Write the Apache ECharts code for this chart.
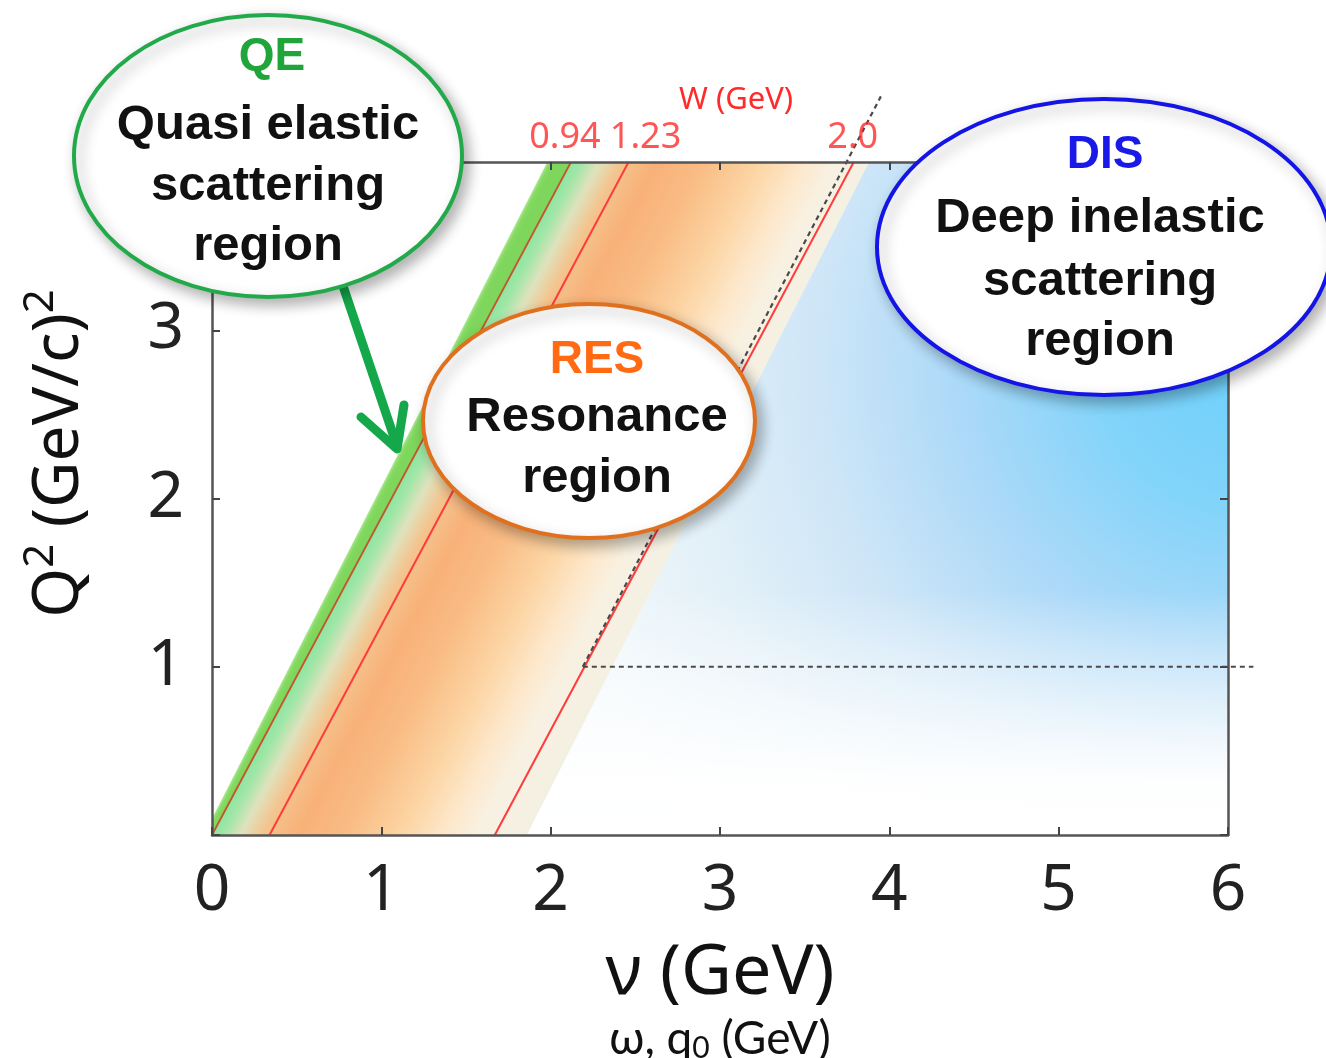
<!DOCTYPE html>
<html>
<head>
<meta charset="utf-8">
<script src="https://cdn.jsdelivr.net/npm/echarts@6/dist/echarts.min.js"></script>
<style>
html,body{margin:0;padding:0;background:#fff;}
#c{width:1326px;height:1058px;}
</style>
</head>
<body>
<div id="c"></div>
<script>
// ---------- data ----------
const xTicks = [0, 1, 2, 3, 4, 5, 6];
const yTickLabels = [1, 2, 3];
// constant-W lines, endpoints [nu, Q2]
const wLabels = ['0.94', '1.23', '2.0'];
const wLineStart = [[0.00, 0], [0.34, 0], [1.67, 0]];
const wLineEnd = [[2.12, 4], [2.46, 4], [3.79, 4]];
// band edges [nu, Q2]
const greenEdge = [[-0.05, 0], [1.98, 4]];
const qeEdge = [[0.00, 0], [2.12, 4]];
const resEdge = [[1.86, 0], [3.88, 4]];
const plotCorner = [[6, 0], [6, 4]];
// dashed guide lines
const dashDiag = [[2.19, 1], [3.95, 4.39]];
const dashHoriz = [[2.19, 1], [6.15, 1]];
// annotation texts
const qeText = ['QE', 'Quasi elastic', 'scattering', 'region'];
const resText = ['RES', 'Resonance', 'region'];
const disText = ['DIS', 'Deep inelastic', 'scattering', 'region'];

// ---------- chart ----------
const chart = echarts.init(document.getElementById('c'));
const G = echarts.graphic;

function polygon(name, pts, styleFn) {
  return {
    type: 'custom', name, coordinateSystem: 'cartesian2d', clip: true, silent: true,
    data: [[pts[0][0], pts[0][1]]], z: 1,
    renderItem: (params, api) => {
      const points = pts.map(p => api.coord(p));
      return { type: 'polygon', shape: { points }, style: styleFn(api, points) };
    }
  };
}
function normalGrad(api, fromLine, toLine, stops) {
  const a = api.coord(fromLine[0]), b = api.coord(fromLine[1]);
  const c = api.coord(toLine[0]);
  const dx = b[0] - a[0], dy = b[1] - a[1], L = Math.hypot(dx, dy);
  const n = [-dy / L, dx / L];
  const w = (c[0] - a[0]) * n[0] + (c[1] - a[1]) * n[1];
  return new G.LinearGradient(a[0], a[1], a[0] + n[0] * w, a[1] + n[1] * w, stops, true);
}

const series = [];
// green band (left of QE line)
series.push(polygon('greenBand', [greenEdge[0], qeEdge[0], qeEdge[1], greenEdge[1]], (api) => ({
  fill: normalGrad(api, greenEdge, qeEdge, [
    { offset: 0, color: 'rgba(150,224,120,0.8)' }, { offset: 0.4, color: '#86da62' }, { offset: 1, color: '#7fd65c' }])
})));
// resonance band
series.push(polygon('resBand', [qeEdge[0], resEdge[0], resEdge[1], qeEdge[1]], (api) => ({
  fill: normalGrad(api, qeEdge, resEdge, [
    { offset: 0, color: '#8ee6a0' }, { offset: 0.035, color: '#a2e6a8' },
    { offset: 0.09, color: '#dfe2bd' }, { offset: 0.16, color: '#f4c48e' },
    { offset: 0.27, color: '#f8b178' }, { offset: 0.42, color: '#f9bc84' },
    { offset: 0.6, color: '#fcd5a4' }, { offset: 0.74, color: '#fde8cc' },
    { offset: 0.84, color: '#f8f1e2' }, { offset: 1, color: '#f3f0e2' }])
})));
// DIS region
series.push(polygon('disBand', [resEdge[0], plotCorner[0], plotCorner[1], resEdge[1]], (api) => {
  const c = api.coord([6.1, 2.8]);
  return {
    fill: new G.RadialGradient(c[0], c[1], 720, [
      { offset: 0, color: '#6ed0fa' }, { offset: 0.2, color: '#82d4fa' },
      { offset: 0.4, color: '#acd9f8' }, { offset: 0.6, color: '#cfe6f7' },
      { offset: 0.8, color: '#e4f1f8' }, { offset: 1, color: '#f2f8fb' }], true)
  };
}));
series.push(polygon('disFade', [resEdge[0], plotCorner[0], plotCorner[1], resEdge[1]], (api) => {
  const y0 = api.coord([0, 0])[1], y1 = api.coord([0, 1.45])[1];
  return {
    fill: new G.LinearGradient(0, y0, 0, y1, [
      { offset: 0, color: 'rgba(255,255,255,1)' }, { offset: 0.22, color: 'rgba(255,255,255,0.96)' },
      { offset: 1, color: 'rgba(255,255,255,0)' }], true)
  };
}));
// constant-W lines
const wColors = ['#c4552f', '#ff3b3b', '#ff3b3b'];
wLabels.forEach((lab, i) => {
  series.push({
    type: 'line', name: 'W=' + lab, data: [wLineStart[i], wLineEnd[i]], showSymbol: false, symbol: 'none',
    clip: true, silent: true, z: 3, lineStyle: { color: wColors[i], width: i === 0 ? 1.8 : 2 }
  });
});
// dashed guides (drawn through the axes' scales, allowed to run past the frame)
[dashDiag, dashHoriz].forEach((d, i) => {
  series.push({
    type: 'custom', name: 'dash' + i, coordinateSystem: 'cartesian2d', clip: false, silent: true, z: 4,
    data: [[d[0][0], d[0][1]]],
    renderItem: (params, api) => {
      const p0 = api.coord(d[0]), p1 = api.coord(d[1]);
      return { type: 'line', shape: { x1: p0[0], y1: p0[1], x2: p1[0], y2: p1[1] },
        style: { stroke: '#4a4a4a', lineWidth: 2.2, lineDash: [5, 4] } };
    }
  });
});
// W labels on top
const wLabelOffsets = [[-6, 0], [17, 0], [-1, 0]];
series.push({
  type: 'scatter', name: 'Wlabels', symbolSize: 0, clip: false, silent: true, z: 5,
  data: wLineEnd.map((p, i) => ({ value: p, label: { offset: wLabelOffsets[i] } })),
  label: {
    show: true, position: 'top', distance: 6,
    formatter: (p) => wLabels[p.dataIndex],
    fontFamily: 'Noto Sans', fontSize: 36, color: '#ff2a2a'
  }
});

const axisLine = { show: true, onZero: false, lineStyle: { color: '#555', width: 2.5 } };
const axisTick = { show: true, inside: true, length: 8, lineStyle: { color: '#444', width: 2 } };

// annotation graphics
function bubble(cx, cy, rx, ry, color) {
  return {
    type: 'ellipse', z: 100, shape: { cx, cy, rx, ry },
    style: { fill: '#fff', stroke: color, lineWidth: 4, shadowBlur: 14, shadowColor: 'rgba(0,0,0,0.3)', shadowOffsetX: 5, shadowOffsetY: 6 }
  };
}
function txt(t, x, y, color, size) {
  return {
    type: 'text', z: 101, x, y,
    style: { text: t, fill: color, font: 'bold ' + size + 'px "Liberation Sans", Arial, sans-serif',
      align: 'center', verticalAlign: 'middle', textAlign: 'center', textVerticalAlign: 'middle' }
  };
}
const graphics = [
  // arrow from QE bubble
  { type: 'polyline', z: 99, shape: { points: [[342, 283], [397, 446]] }, style: { stroke: '#14a84a', lineWidth: 9, lineCap: 'round' } },
  { type: 'polyline', z: 99, shape: { points: [[361, 417], [397, 449], [404, 405]] }, style: { stroke: '#14a84a', lineWidth: 9, lineCap: 'round', lineJoin: 'round', fill: null } },
  bubble(268, 156, 194, 141, '#22aa4a'),
  bubble(589, 421, 166, 117, '#e0701e'),
  bubble(1104, 247, 227, 148, '#1414e6')
];
const qeY = [57, 125, 186, 246], resY = [360, 417, 478], disY = [155, 218, 281, 341];
qeText.forEach((t, i) => graphics.push(txt(t, i === 0 ? 272 : 268, qeY[i], i === 0 ? '#1fa53a' : '#111', i === 0 ? 46 : 49)));
resText.forEach((t, i) => graphics.push(txt(t, 597, resY[i], i === 0 ? '#ff6a13' : '#111', i === 0 ? 46 : 49)));
disText.forEach((t, i) => graphics.push(txt(t, i === 0 ? 1105 : 1100, disY[i], i === 0 ? '#1a1ae8' : '#111', i === 0 ? 46 : 49)));

const option = {
  backgroundColor: '#fff',
  animation: false,
  title: {
    text: 'W (GeV)', left: 674, top: 80,
    textStyle: { fontFamily: 'Noto Sans', fontSize: 31, fontWeight: 'normal', color: '#ff2a2a' }
  },
  grid: { left: 212, right: 98, top: 162, bottom: 223, containLabel: false, outerBoundsMode: 'none' },
  xAxis: [{
    type: 'value', min: 0, max: 6, interval: 1, position: 'bottom', z: 10,
    axisLine, axisTick, splitLine: { show: false },
    axisLabel: { fontFamily: 'Noto Sans', fontSize: 64, color: '#222', margin: 25,
      formatter: v => (xTicks.indexOf(v) >= 0 ? String(v) : '') },
    name: '{a|ν (GeV)}\n{b|ω, q}{s|0}{b| (GeV)}', nameLocation: 'middle', nameGap: 98,
    nameTextStyle: {
      color: '#111',
      rich: {
        a: { fontFamily: 'Noto Sans', fontSize: 70, lineHeight: 82, color: '#111' },
        b: { fontFamily: 'Lato, "Open Sans", sans-serif', fontSize: 46, lineHeight: 48, color: '#111' },
        s: { fontFamily: 'Lato, "Open Sans", sans-serif', fontSize: 30, lineHeight: 34, verticalAlign: 'bottom', color: '#111' }
      }
    }
  }, {
    type: 'value', min: 0, max: 6, interval: 1, position: 'top', z: 10,
    axisLine, axisTick, axisLabel: { show: false }, splitLine: { show: false }
  }],
  yAxis: [{
    type: 'value', min: 0, max: 4, interval: 1, position: 'left', z: 10,
    axisLine, axisTick, splitLine: { show: false },
    axisLabel: { fontFamily: 'Noto Sans', fontSize: 64, color: '#222', margin: 28,
      formatter: v => (yTickLabels.indexOf(v) >= 0 ? String(v) : '') },
    name: 'Q{s|2} (GeV/c){s|2}', nameLocation: 'middle', nameRotate: 90, nameGap: 112,
    nameTextStyle: {
      fontFamily: 'Noto Sans', fontSize: 64, color: '#111', lineHeight: 80, padding: [0, 0, 0, 90],
      rich: { s: { fontFamily: 'Noto Sans', fontSize: 42, lineHeight: 80, verticalAlign: 'top', color: '#111' } }
    }
  }, {
    type: 'value', min: 0, max: 4, interval: 1, position: 'right', z: 10,
    axisLine, axisTick, axisLabel: { show: false }, splitLine: { show: false }
  }],
  series,
  graphic: { elements: graphics }
};
chart.setOption(option);
</script>
</body>
</html>
